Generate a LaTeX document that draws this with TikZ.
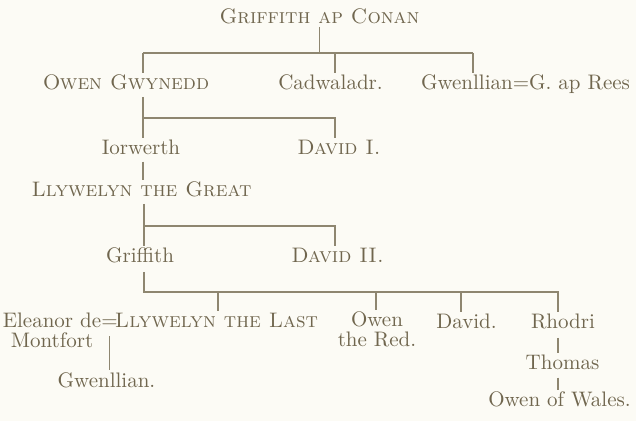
\documentclass[tikz,border=0pt]{standalone}
\usetikzlibrary{positioning}
\definecolor{ink}{HTML}{70664E}
\definecolor{rulegray}{HTML}{8E8670}
\definecolor{paper}{HTML}{FCFBF5}

\begin{document}
\begin{tikzpicture}[x=0.5pt, y=-0.5pt,
    person/.style={inner sep=1pt, anchor=base, text=ink, align=center,
        font=\fontsize{10.5}{10}\selectfont},
    kin/.style={draw=rulegray, line width=0.6pt}]

    \fill[paper] (0,0) rectangle (636,421);
    \useasboundingbox (0,0) rectangle (636,421);

    \node[person] (conan) at (319.5,24) {\textsc{Griffith ap Conan}};
    \node[person] (owen) at (126,90) {\textsc{Owen Gwynedd}};
    \node[person] (cadw) at (330.5,90) {Cadwaladr.};
    \node[person] (gwenrees) at (525.5,90) {Gwenllian=G. ap Rees};

    \node[person] (iorw) at (141,155) {Iorwerth};
    \node[person] (david1) at (339,155) {\textsc{David I.}};
    \node[person] (llygreat) at (141.5,197) {\textsc{Llywelyn the Great}};
    \node[person] (griff) at (140,263) {Griffith};
    \node[person] (david2) at (337.5,263) {\textsc{David II.}};

    \node[person] (eleanor) at (52,348) {Eleanor de\\Montfort};
    \node[person] (wed) at (109.5,328) {=};
    \node[person] (llylast) at (216.5,328) {\textsc{Llywelyn the Last}};
    \node[person] (gwenll) at (106.5,387) {Gwenllian.};
    \node[person] (owenred) at (377,347) {Owen\\the Red.};
    \node[person] (david) at (466.5,329) {David.};
    \node[person] (rhodri) at (563,329) {Rhodri};
    \node[person] (thomas) at (562.5,370) {Thomas};
    \node[person] (owenwales) at (559.5,407) {Owen of Wales.};

    \coordinate (b1w) at (143,53);
    \coordinate (b1m) at (335,53);
    \coordinate (b1e) at (473,53);
    \coordinate (b2w) at (143,118);
    \coordinate (b2e) at (335,118);
    \coordinate (b3w) at (144,226);
    \coordinate (b3e) at (335,226);
    \coordinate (b4w) at (144,292);
    \coordinate (b4a) at (218,292);
    \coordinate (b4b) at (376,292);
    \coordinate (b4c) at (461,292);
    \coordinate (b4e) at (558,292);

    \draw[kin] (conan.south) -- (conan.south |- b1w);
    \draw[kin] (b1w) -- (b1e);
    \draw[kin] (b1w) -- (b1w |- owen.north);
    \draw[kin] (b1m) -- (b1m |- cadw.north);
    \draw[kin] (b1e) -- (b1e |- gwenrees.north);

    \draw[kin, shorten <=2pt] (owen.south -| b2w) -- (b2w) -- (b2e) -- (b2e |- david1.north);
    \draw[kin] (b2w) -- (b2w |- iorw.north);
    \draw[kin, shorten <=2pt] (iorw.south -| b2w) -- (llygreat.north -| b2w);

    \draw[kin, shorten <=2pt] (llygreat.south -| b3w) -- (b3w) -- (b3e) -- (b3e |- david2.north);
    \draw[kin] (b3w) -- (b3w |- griff.north);

    \draw[kin, shorten <=3pt] (griff.south -| b4w) -- (b4w) -- (b4e) -- (b4e |- rhodri.north);
    \draw[kin] (b4a) -- (b4a |- llylast.north);
    \draw[kin] (b4b) -- (b4b |- owenred.north);
    \draw[kin] (b4c) -- (b4c |- david.north);

    \draw[kin, shorten <=3pt] (wed.south) -- (wed.south |- gwenll.north);
    \draw[kin, shorten <=3pt] (rhodri.south -| b4e) -- (thomas.north -| b4e);
    \draw[kin, shorten <=2.5pt] (thomas.south -| b4e) -- (owenwales.north -| b4e);

\end{tikzpicture}
\end{document}
